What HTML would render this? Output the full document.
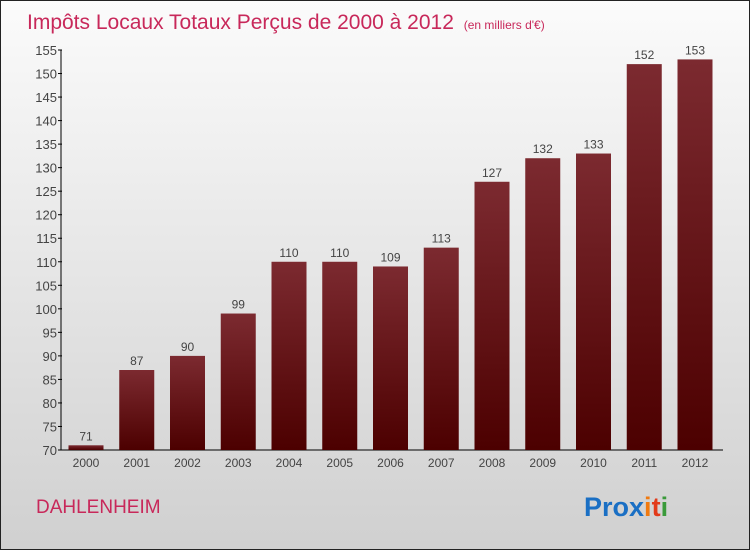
<!DOCTYPE html>
<html><head><meta charset="utf-8"><style>
body{margin:0;width:750px;height:550px;overflow:hidden;font-family:"Liberation Sans",sans-serif}
#wrap{position:absolute;left:0;top:0;width:748px;height:548px;border:1px solid #222;background:linear-gradient(#fbfbfb,#d0d0d0)}
</style></head><body>
<div id="wrap">
<svg width="748" height="548">
<defs><linearGradient id="bg" x1="0" y1="0" x2="0" y2="1"><stop offset="0" stop-color="#7c2a30"/><stop offset="1" stop-color="#4c0000"/></linearGradient></defs>
<text x="26" y="28" font-size="21" fill="#c8285a">Impôts Locaux Totaux Perçus de 2000 à 2012 <tspan font-size="12" dx="4">(en milliers d'€)</tspan></text>
<g id="axes"></g><g id="bars"></g>
<text x="35" y="512" font-size="19" fill="#c8285a">DAHLENHEIM</text>
<text x="583" y="515" font-size="27" font-weight="bold"><tspan fill="#1a6fc4">Pro</tspan><tspan fill="#1a6fc4">x</tspan><tspan fill="#f07a10">i</tspan><tspan fill="#e23a1a">t</tspan><tspan fill="#3a9a3a">i</tspan></text>
</svg></div>
<script>
const years=["2000","2001","2002","2003","2004","2005","2006","2007","2008","2009","2010","2011","2012"];
const values=[71,87,90,99,110,110,109,113,127,132,133,152,153];
const ticks=[70,75,80,85,90,95,100,105,110,115,120,125,130,135,140,145,150,155];
const NS="http://www.w3.org/2000/svg";
const y=v=>449-(v-70)*(400/85);
const x=i=>85+50.75*i;
function mk(t,a,p){const e=document.createElementNS(NS,t);for(const k in a)e.setAttribute(k,a[k]);p.appendChild(e);return e;}
const ax=document.getElementById('axes'),bg=document.getElementById('bars');
const yl=mk('line',{x1:60,y1:y(155),x2:60,y2:449,stroke:'#000'},ax);


const xl=mk('line',{x1:60,y1:449,x2:722,y2:449,stroke:'#000'},ax);


ticks.forEach(t=>{
 mk('line',{x1:57,x2:61,y1:y(t),y2:y(t),stroke:'#000'},ax);
 const tx=mk('text',{x:56,y:y(t)+5,'font-size':13,fill:'#444','text-anchor':'end'},ax);tx.textContent=t;
 
 
});
years.forEach((yr,i)=>{
 const r=mk('rect',{x:x(i)-17.5,y:y(values[i]),width:35,height:449-y(values[i]),fill:'url(#bg)'},bg);
 
 
 const v=mk('text',{x:x(i),y:y(values[i])-5,'font-size':12,fill:'#444','text-anchor':'middle'},bg);v.textContent=values[i];
 
 
 const l=mk('text',{x:x(i),y:466,'font-size':12,fill:'#444','text-anchor':'middle'},bg);l.textContent=yr;
 
 
});
</script></body></html>
